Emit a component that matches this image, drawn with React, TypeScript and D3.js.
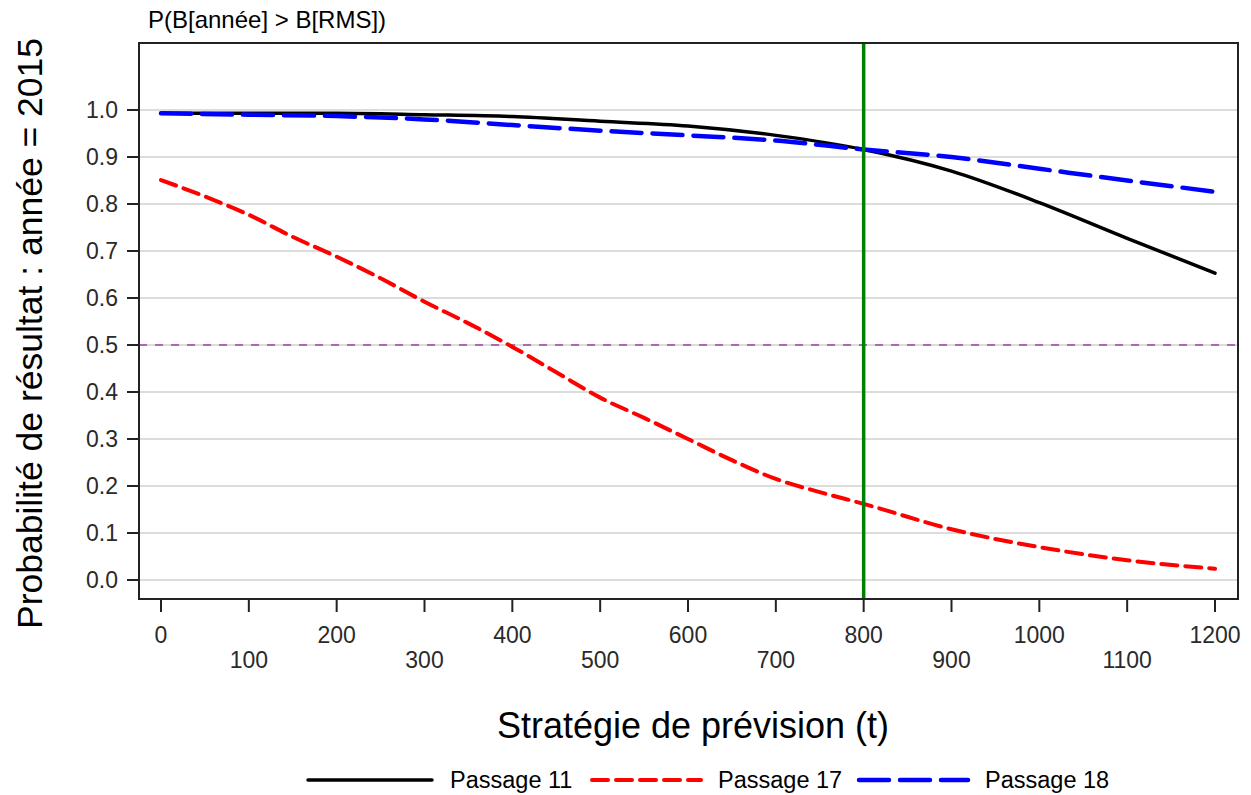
import React from "react";
import * as d3 from "d3";

// Forecast strategy (t) and probability that biomass exceeds the reference level
const xTicks = [0, 100, 200, 300, 400, 500, 600, 700, 800, 900, 1000, 1100, 1200];
const yTicks = [0, 0.1, 0.2, 0.3, 0.4, 0.5, 0.6, 0.7, 0.8, 0.9, 1.0];

const passage11X = [0, 100, 200, 300, 400, 500, 600, 700, 800, 900, 1000, 1100, 1200];
const passage11Y = [0.993, 0.993, 0.993, 0.99, 0.986, 0.976, 0.966, 0.946, 0.916, 0.87, 0.803, 0.727, 0.653];

const passage17X = [0, 50, 100, 150, 200, 250, 300, 350, 400, 450, 500, 550, 600, 650, 700, 750, 800, 900, 1000, 1100, 1200];
const passage17Y = [0.851, 0.816, 0.777, 0.73, 0.688, 0.642, 0.592, 0.546, 0.496, 0.442, 0.388, 0.345, 0.3, 0.255, 0.215, 0.187, 0.162, 0.108, 0.07, 0.042, 0.024];

const passage18X = [0, 100, 200, 300, 400, 500, 600, 700, 800, 900, 1000, 1100, 1200];
const passage18Y = [0.993, 0.99, 0.987, 0.98, 0.968, 0.956, 0.946, 0.935, 0.916, 0.9, 0.875, 0.85, 0.826];

const referenceT = 800;
const threshold = 0.5;

const series = [
  { name: "Passage 11", xs: passage11X, ys: passage11Y, color: "#000000", width: 3.5, dash: "none" },
  { name: "Passage 17", xs: passage17X, ys: passage17Y, color: "#ff0000", width: 4, dash: "16 8" },
  { name: "Passage 18", xs: passage18X, ys: passage18Y, color: "#0000ff", width: 4.5, dash: "30 11" },
];

const W = 1251;
const H = 795;
const frame = { left: 139, right: 1238, top: 43, bottom: 599 };

const FONT = "'Liberation Sans', Arial, Helvetica, sans-serif";

export default function App() {
  const x = d3.scaleLinear().domain([0, 1200]).range([161, 1215]);
  const y = d3.scaleLinear().domain([0, 1]).range([580, 110]);

  const line = d3
    .line<[number, number]>()
    .x((d) => x(d[0]))
    .y((d) => y(d[1]))
    .curve(d3.curveMonotoneX);

  const legendItems = [
    { lx: 308, lw: 124, tx: 450 },
    { lx: 592, lw: 109, tx: 718 },
    { lx: 859, lw: 109, tx: 985 },
  ];
  const legendY = 780;

  return (
    <svg
      width={W}
      height={H}
      style={{ position: "absolute", left: 0, top: 0, background: "#fff" }}
      fontFamily={FONT}
    >
      {/* horizontal grid */}
      {yTicks.map((t) => (
        <line
          key={"g" + t}
          x1={frame.left}
          x2={frame.right}
          y1={y(t)}
          y2={y(t)}
          stroke="#dcdcdc"
          strokeWidth={2}
        />
      ))}

      {/* 0.5 threshold */}
      <line
        x1={frame.left}
        x2={frame.right}
        y1={y(threshold)}
        y2={y(threshold)}
        stroke="#a040a8"
        strokeWidth={1.5}
        strokeDasharray="8 8"
      />

      {/* series */}
      {series.map((s) => (
        <path
          key={s.name}
          d={line(s.xs.map((v, i) => [v, s.ys[i]] as [number, number])) || ""}
          fill="none"
          stroke={s.color}
          strokeWidth={s.width}
          strokeDasharray={s.dash}
          strokeLinecap="round"
        />
      ))}

      {/* reference strategy */}
      <line
        x1={x(referenceT)}
        x2={x(referenceT)}
        y1={frame.top}
        y2={frame.bottom}
        stroke="#008000"
        strokeWidth={3.5}
      />

      {/* frame */}
      <rect
        x={frame.left}
        y={frame.top}
        width={frame.right - frame.left}
        height={frame.bottom - frame.top}
        fill="none"
        stroke="#222"
        strokeWidth={2}
      />

      {/* y axis ticks and labels */}
      {yTicks.map((t) => (
        <g key={"y" + t}>
          <line x1={127} x2={frame.left} y1={y(t)} y2={y(t)} stroke="#222" strokeWidth={2} />
          <text
            x={118}
            y={y(t)}
            dy="0.35em"
            textAnchor="end"
            fontSize={23}
            fill="#2a2a2a"
          >
            {d3.format(".1f")(t)}
          </text>
        </g>
      ))}

      {/* x axis ticks and labels, alternating rows */}
      {xTicks.map((t, i) => (
        <g key={"x" + t}>
          <line x1={x(t)} x2={x(t)} y1={frame.bottom} y2={612} stroke="#222" strokeWidth={2} />
          <text
            x={x(t)}
            y={i % 2 === 0 ? 643 : 668}
            textAnchor="middle"
            fontSize={23}
            fill="#2a2a2a"
          >
            {t}
          </text>
        </g>
      ))}

      {/* titles */}
      <text x={148} y={28} fontSize={24} fill="#000">
        P(B[année] &gt; B[RMS])
      </text>
      <text
        transform={`translate(42, ${(35 + 632) / 2}) rotate(-90)`}
        textAnchor="middle"
        fontSize={35.5}
        fill="#000"
      >
        Probabilité de résultat : année = 2015
      </text>
      <text x={(497 + 889) / 2} y={738} textAnchor="middle" fontSize={36} fill="#000">
        Stratégie de prévision (t)
      </text>

      {/* legend */}
      {series.map((s, i) => {
        const it = legendItems[i];
        return (
          <g key={"l" + s.name}>
            <line
              x1={it.lx}
              x2={it.lx + it.lw}
              y1={legendY}
              y2={legendY}
              stroke={s.color}
              strokeWidth={s.width}
              strokeDasharray={s.dash}
              strokeLinecap="round"
            />
            <text x={it.tx} y={legendY} dy="0.35em" fontSize={23.5} fill="#000">
              {s.name}
            </text>
          </g>
        );
      })}
    </svg>
  );
}
